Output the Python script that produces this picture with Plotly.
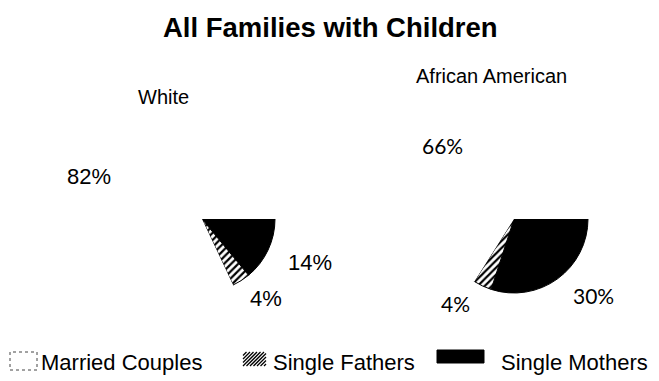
import plotly.graph_objects as go

W, H = 659, 381

# Family types, in legend order
categories = ["Married Couples", "Single Fathers", "Single Mothers"]
white_values = [82, 4, 14]
african_american_values = [66, 4, 30]
group_titles = ["White", "African American"]
chart_title = "All Families with Children"

FONT = "Arial, Liberation Sans, sans-serif"


def px(x):
    return x / W


def py(y):
    return 1 - y / H


def pie_domain(cx, cy, r):
    return dict(x=[px(cx - r), px(cx + r)], y=[py(cy + r), py(cy - r)])


# Slices are drawn clockwise from 3 o'clock: mothers, fathers, married
order = [2, 1, 0]
colors = ["white", "white", "black"]
patterns = ["", "/", ""]
line_colors = ["rgba(0,0,0,0)", "black", "black"]
line_widths = [0, 1, 1]

fig = go.Figure()
for values, (cx, cy, r) in zip([white_values, african_american_values],
                               [(202, 219, 73), (514, 219, 74)]):
    fig.add_trace(go.Pie(
        labels=[categories[i] for i in order],
        values=[values[i] for i in order],
        sort=False, direction="clockwise", rotation=90,
        marker=dict(
            colors=[colors[i] for i in order],
            pattern=dict(shape=[patterns[i] for i in order], fgcolor="black",
                         bgcolor="white", size=5, solidity=0.45),
            line=dict(color=[line_colors[i] for i in order],
                      width=[line_widths[i] for i in order]),
        ),
        textinfo="none", hoverinfo="label+percent", showlegend=False,
        domain=pie_domain(cx, cy, r),
    ))

annotations = []


def label(text, x, y, size, family=FONT, bold=False):
    annotations.append(dict(
        text=f"<b>{text}</b>" if bold else text, x=px(x), y=py(y),
        xref="paper", yref="paper", xanchor="center", yanchor="middle",
        showarrow=False, font=dict(family=family, size=size, color="black")))


label(chart_title, 330, 28, 27.5, bold=True)
label(group_titles[0], 163, 97, 20)
label(group_titles[1], 492, 76, 20)

# Slice value labels
label(f"{white_values[0]}%", 89, 176, 22)
label(f"{white_values[1]}%", 266, 298, 22)
label(f"{white_values[2]}%", 310, 262, 22)
label(f"{african_american_values[0]}%", 442, 145, 21, family="Lato, sans-serif")
label(f"{african_american_values[1]}%", 455, 303, 21, family="Lato, sans-serif")
label(f"{african_american_values[2]}%", 593, 295, 21, family="Lato, sans-serif")

# Legend swatches and entries
shapes = []
shapes.append(dict(type="rect", xref="paper", yref="paper",
                   x0=px(10), x1=px(37), y0=py(370), y1=py(352),
                   line=dict(color="#444", width=1, dash="dot"),
                   fillcolor="white"))

hx0, hx1, hy0, hy1 = 243, 266, 352, 366
c = hx0 + hy0
while c <= hx1 + hy1:
    xa = max(hx0, c - hy1)
    xb = min(hx1, c - hy0)
    if xb > xa:
        shapes.append(dict(type="line", xref="paper", yref="paper",
                           x0=px(xa), y0=py(c - xa), x1=px(xb), y1=py(c - xb),
                           line=dict(color="black", width=1.3)))
    c += 3.5

shapes.append(dict(type="rect", xref="paper", yref="paper",
                   x0=px(437), x1=px(484), y0=py(363), y1=py(350),
                   line=dict(color="black", width=1), fillcolor="black"))

legend_text_x = [39, 271, 499]
for name, x in zip(categories, legend_text_x):
    annotations.append(dict(
        text=name, x=px(x), y=py(362), xref="paper", yref="paper",
        xanchor="left", yanchor="middle", showarrow=False,
        font=dict(family=FONT, size=22, color="black")))

fig.update_layout(
    width=W, height=H,
    margin=dict(l=0, r=0, t=0, b=0),
    paper_bgcolor="white", plot_bgcolor="white",
    annotations=annotations, shapes=shapes,
)

fig.write_html("out.html")
